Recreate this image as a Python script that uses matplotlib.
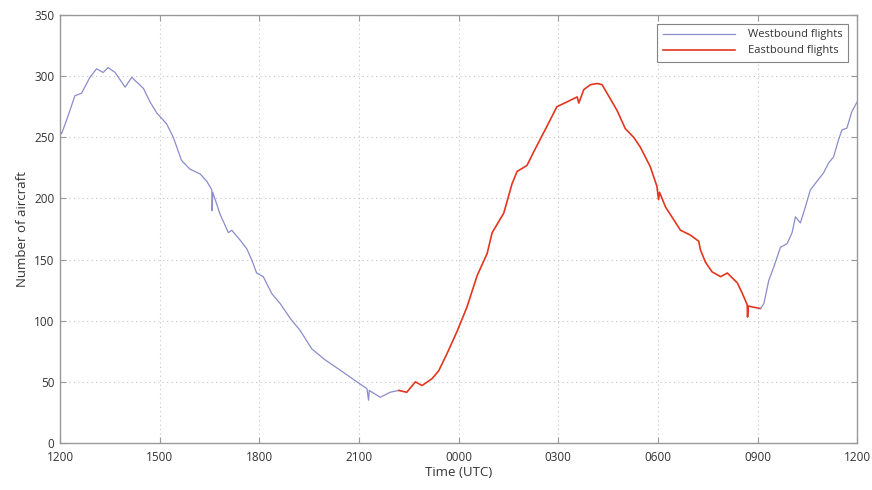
import matplotlib
matplotlib.use("Agg")
import matplotlib.pyplot as plt

# Hours since 12:00 UTC
west1_t = [0.0, 0.05, 0.25, 0.45, 0.65, 0.90, 1.10, 1.30, 1.45, 1.66, 1.96, 2.16, 2.51, 2.71,
           2.91, 3.21, 3.41, 3.66, 3.91, 4.22, 4.42, 4.57, 4.58, 4.60, 4.82, 5.07, 5.17, 5.42,
           5.62, 5.77, 5.92, 6.12, 6.38, 6.63, 6.93, 7.23, 7.58, 7.98, 8.44, 8.94, 9.24, 9.29,
           9.31, 9.64, 9.94, 10.20]
west1_v = [255, 253, 268, 284, 286, 299, 306, 303, 307, 303, 291, 299, 290, 279,
           270, 261, 250, 231, 224, 220, 214, 207, 190, 205, 187, 172, 174, 166,
           159, 150, 139, 136, 122, 114, 102, 92, 77, 68, 59.5, 50, 44.5, 35,
           43, 37.4, 41.5, 43]

east_t = [10.20, 10.44, 10.70, 10.90, 11.20, 11.40, 11.65, 11.95, 12.25, 12.56, 12.86, 13.01,
          13.36, 13.61, 13.76, 14.06, 14.26, 14.66, 14.96, 15.27, 15.57, 15.62, 15.77, 15.97,
          16.17, 16.32, 16.47, 16.77, 17.02, 17.27, 17.47, 17.77, 17.97, 18.02, 18.05, 18.23,
          18.68, 18.98, 19.23, 19.28, 19.43, 19.63, 19.89, 20.09, 20.39, 20.54, 20.69, 20.70,
          20.72, 20.89, 21.09]
east_v = [43, 41.5, 50, 47, 52.6, 59, 73, 91, 111, 137, 155, 172,
          188, 212, 222, 227, 238, 259, 275, 279, 283, 278, 289, 293,
          294, 293, 286, 272, 257, 250, 242, 226, 210, 199, 205, 193,
          174, 170, 165, 158, 148, 140, 136, 139, 131, 122.5, 113, 103,
          112, 111, 110]

west2_t = [21.09, 21.19, 21.34, 21.49, 21.69, 21.89, 22.04, 22.14, 22.29, 22.44, 22.59, 22.79,
           22.99, 23.14, 23.29, 23.44, 23.54, 23.69, 23.84, 24.0]
west2_v = [110, 114, 133, 144, 160, 163, 172, 185, 180, 193, 207, 214,
           221, 229, 234, 248, 256, 257.5, 271, 279]

xtick_pos = [0, 3, 6, 9, 12, 15, 18, 21, 24]
xtick_labels = ["1200", "1500", "1800", "2100", "0000", "0300", "0600", "0900", "1200"]
ytick_pos = [0, 50, 100, 150, 200, 250, 300, 350]

plt.rcParams['font.family'] = ['Open Sans', 'DejaVu Sans']

fig = plt.figure(figsize=(8.72, 4.90), dpi=100)
ax = fig.add_axes([0.0688, 0.0959, 0.9142, 0.8735])

west_color = '#8a8ccc'
east_color = '#e3361f'

ax.plot(west1_t, west1_v, color=west_color, lw=0.9, label='Westbound flights')
ax.plot(east_t, east_v, color=east_color, lw=1.2, label='Eastbound flights')
ax.plot(west2_t, west2_v, color=west_color, lw=0.9)

ax.set_xlim(0, 24)
ax.set_ylim(0, 350)
ax.set_xticks(xtick_pos)
ax.set_xticklabels(xtick_labels)
ax.set_yticks(ytick_pos)

ax.grid(True, linestyle=(0, (1, 3)), color='#c4c4c4', lw=0.8)
for s in ax.spines.values():
    s.set_color('#999999')
    s.set_linewidth(1.0)
ax.tick_params(direction='in', top=True, right=True, length=4, color='#999999',
               labelsize=8.5, labelcolor='#333333')
ax.tick_params(axis='x', pad=6)
ax.tick_params(axis='y', pad=4)

ax.set_xlabel('Time (UTC)', fontsize=9.5, color='#333333', labelpad=1)
ax.set_ylabel('Number of aircraft', fontsize=9.5, color='#333333', labelpad=4)

leg = ax.legend(loc='upper right', fontsize=8, frameon=True, fancybox=False,
                edgecolor='#666666', borderaxespad=0.8, handlelength=6.5,
                handletextpad=1.2, labelspacing=0.45, borderpad=0.5)
leg.get_frame().set_linewidth(0.8)
for t in leg.get_texts():
    t.set_color('#333333')

fig.savefig('out.png', dpi=100)
